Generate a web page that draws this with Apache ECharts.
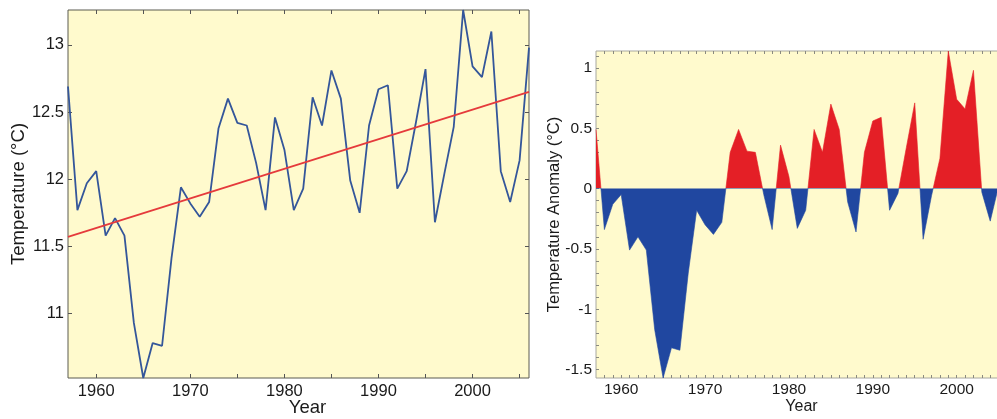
<!DOCTYPE html>
<html><head><meta charset="utf-8">
<script src="https://cdn.jsdelivr.net/npm/echarts@6/dist/echarts.min.js"></script>
<style>html,body{margin:0;padding:0;background:#fff}#c{width:997px;height:419px}</style>
</head><body><div id="c"></div>
<script>
// ---- data ----
const years = [1957,1958,1959,1960,1961,1962,1963,1964,1965,1966,1967,1968,1969,1970,1971,1972,1973,1974,1975,1976,1977,1978,1979,1980,1981,1982,1983,1984,1985,1986,1987,1988,1989,1990,1991,1992,1993,1994,1995,1996,1997,1998,1999,2000,2001,2002,2003,2004,2005,2006];
const temperature = [12.69,11.77,11.97,12.06,11.58,11.71,11.58,10.93,10.52,10.78,10.76,11.41,11.94,11.82,11.72,11.83,12.38,12.60,12.42,12.40,12.12,11.77,12.46,12.22,11.77,11.93,12.61,12.40,12.81,12.60,11.99,11.75,12.40,12.67,12.70,11.93,12.06,12.43,12.82,11.68,12.04,12.39,13.26,12.84,12.76,13.10,12.06,11.83,12.14,12.98];
const trendYears = [1957, 2006];
const trendValues = [11.57, 12.65];
const anomaly = [0.49,-0.34,-0.13,-0.05,-0.51,-0.40,-0.51,-1.17,-1.57,-1.32,-1.34,-0.70,-0.18,-0.30,-0.38,-0.28,0.30,0.49,0.31,0.30,-0.05,-0.34,0.36,0.10,-0.33,-0.18,0.49,0.30,0.70,0.49,-0.11,-0.36,0.30,0.56,0.59,-0.18,-0.04,0.34,0.71,-0.42,-0.06,0.25,1.14,0.74,0.66,0.98,-0.03,-0.27,0.02,0.87];
const yearLabels = [1960,1970,1980,1990,2000];
const tempYearTicks = [1960,1965,1970,1975,1980,1985,1990,1995,2000,2005];
const anomalyYearTicks = [1958,1959,1960,1961,1962,1963,1964,1965,1966,1967,1968,1969,1970,1971,1972,1973,1974,1975,1976,1977,1978,1979,1980,1981,1982,1983,1984,1985,1986,1987,1988,1989,1990,1991,1992,1993,1994,1995,1996,1997,1998,1999,2000,2001,2002,2003,2004,2005];
const tempLabels = [11,11.5,12,12.5,13];
const anomalyLabels = [-1.5,-1,-0.5,0,0.5,1];
const anomalyTicks = [-1.5,-1.4,-1.3,-1.2,-1.1,-1,-0.9,-0.8,-0.7,-0.6,-0.5,-0.4,-0.3,-0.2,-0.1,0,0.1,0.2,0.3,0.4,0.5,0.6,0.7,0.8,0.9,1,1.1];

// ---- style ----
const FONT = "'Liberation Sans', Arial, sans-serif";
const BG = '#fffacd';
const TXT = '#1a1a1a';
const RED = '#e41f26';
const BLUE = '#2047a0';

function pairs(xs, ys){ return xs.map((x,i)=>[x, ys[i]]); }
const plain = v => String(v);

const chart = echarts.init(document.getElementById('c'), null, {renderer:'canvas'});
const leftTick = {show:true, inside:true, length:4, lineStyle:{color:'#555', width:1}};
const rightTick = {show:true, inside:true, length:3, lineStyle:{color:'#8a8a80', width:1}};

chart.setOption({
  animation:false,
  backgroundColor:'#fff',
  textStyle:{fontFamily:FONT},
  grid:[
    {left:68, top:10, width:461, height:368, outerBoundsMode:'none', containLabel:false,
     show:true, backgroundColor:BG, borderColor:'#5a5a50', borderWidth:1},
    {left:596, top:51, width:411, height:327, outerBoundsMode:'none', containLabel:false,
     show:true, backgroundColor:BG, borderColor:'#a8a8a0', borderWidth:1}
  ],
  xAxis:[
    {type:'value', gridIndex:0, min:1957, max:2006, axisLine:{show:false, onZero:false},
     axisTick:Object.assign({customValues:tempYearTicks}, leftTick),
     axisLabel:{customValues:yearLabels, formatter:plain, fontSize:16.5, color:TXT, margin:5, fontFamily:FONT},
     splitLine:{show:false},
     name:'Year', nameLocation:'middle', nameGap:20, nameMoveOverlap:false,
     nameTextStyle:{fontSize:18.5, color:TXT, fontFamily:FONT, padding:[0,0,0,18]}},
    {type:'value', gridIndex:0, position:'top', min:1957, max:2006, axisLine:{show:false, onZero:false},
     axisTick:Object.assign({customValues:tempYearTicks}, leftTick),
     axisLabel:{show:false}, splitLine:{show:false}},
    {type:'value', gridIndex:1, min:1957, max:2006, axisLine:{show:false, onZero:false},
     axisTick:Object.assign({customValues:anomalyYearTicks}, rightTick),
     axisLabel:{customValues:yearLabels, formatter:plain, fontSize:15.5, color:TXT, margin:4, fontFamily:FONT},
     splitLine:{show:false},
     name:'Year', nameLocation:'middle', nameGap:21, nameMoveOverlap:false,
     nameTextStyle:{fontSize:16, color:TXT, fontFamily:FONT}},
    {type:'value', gridIndex:1, position:'top', min:1957, max:2006, axisLine:{show:false, onZero:false},
     axisTick:Object.assign({customValues:anomalyYearTicks}, rightTick),
     axisLabel:{show:false}, splitLine:{show:false}}
  ],
  yAxis:[
    {type:'value', gridIndex:0, min:10.52, max:13.26, axisLine:{show:false, onZero:false},
     axisTick:Object.assign({customValues:tempLabels}, leftTick),
     axisLabel:{customValues:tempLabels, formatter:plain, fontSize:16.5, color:TXT, margin:4, fontFamily:FONT},
     splitLine:{show:false},
     name:'Temperature (°C)', nameLocation:'middle', nameGap:40, nameMoveOverlap:false,
     nameTextStyle:{fontSize:18.5, color:TXT, fontFamily:FONT}},
    {type:'value', gridIndex:0, position:'right', min:10.52, max:13.26, axisLine:{show:false, onZero:false},
     axisTick:Object.assign({customValues:tempLabels}, leftTick),
     axisLabel:{show:false}, splitLine:{show:false}},
    {type:'value', gridIndex:1, min:-1.57, max:1.14, axisLine:{show:false, onZero:false},
     axisTick:Object.assign({customValues:anomalyTicks}, rightTick),
     axisLabel:{customValues:anomalyLabels, formatter:plain, fontSize:15.5, color:TXT, margin:4, fontFamily:FONT},
     splitLine:{show:false},
     name:'Temperature Anomaly (°C)', nameLocation:'middle', nameGap:33, nameMoveOverlap:false,
     nameTextStyle:{fontSize:16.5, color:TXT, fontFamily:FONT}}
  ],
  visualMap:[{
    type:'piecewise', show:false, seriesIndex:2, dimension:1,
    pieces:[{gt:0.008, lte:3, color:RED}, {gte:-3, lte:0.008, color:BLUE}],
    outOfRange:{color:BLUE}
  }],
  series:[
    {type:'line', xAxisIndex:0, yAxisIndex:0, data:pairs(years, temperature), symbol:'none',
     lineStyle:{color:'#34569a', width:1.8}, itemStyle:{color:'#34569a'}, z:3},
    {type:'line', xAxisIndex:0, yAxisIndex:0, data:pairs(trendYears, trendValues), symbol:'none',
     lineStyle:{color:'#e53a3c', width:1.8}, itemStyle:{color:'#e53a3c'}, z:4},
    {type:'line', xAxisIndex:2, yAxisIndex:2, data:pairs(years, anomaly), symbol:'none', clip:true,
     lineStyle:{width:0.6}, areaStyle:{opacity:1, origin:0}, z:3}
  ]
});
</script>
</body></html>
